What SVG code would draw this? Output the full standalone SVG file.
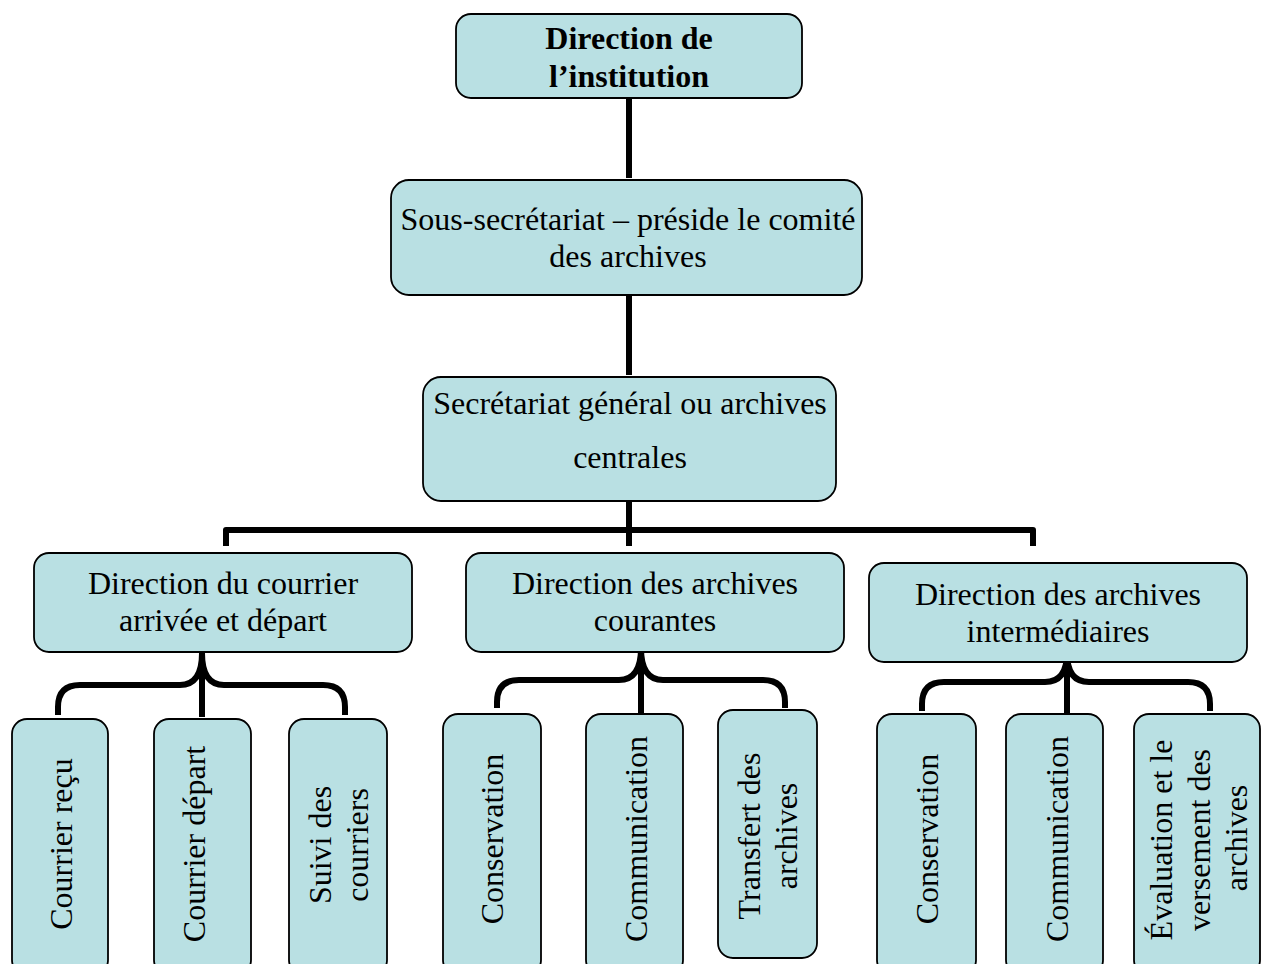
<svg xmlns="http://www.w3.org/2000/svg" width="1262" height="964" viewBox="0 0 1262 964">
<style>
.box{fill:#b9e0e3;stroke:#000;stroke-width:1.8}
.t{font-family:"Liberation Serif","Times New Roman",serif;font-size:32px;fill:#000;text-anchor:middle}
.b{font-weight:bold}
.c{fill:none;stroke:#000;stroke-width:6;stroke-linecap:butt;stroke-linejoin:round}
</style>
<rect width="1262" height="964" fill="#fff"/>
<g id="connectors">
<path class="c" d="M629 98V178"/>
<path class="c" d="M629 296V375"/>
<path class="c" d="M629 492V546"/>
<path class="c" d="M226 546V530H1033V546"/>
<path class="c" d="M202 653V717"/>
<path class="c" d="M202 653Q202 685 180 685H80Q58 685 58 707V715"/>
<path class="c" d="M202 653Q202 685 224 685H323Q345 685 345 707V715"/>
<path class="c" d="M641 648V713"/>
<path class="c" d="M641 648Q641 680 619 680H519Q497 680 497 702V708"/>
<path class="c" d="M641 648Q641 680 663 680H763Q785 680 785 702V708"/>
<path class="c" d="M1067 653V714"/>
<path class="c" d="M1067 653Q1067 682 1045 682H944Q922 682 922 704V711"/>
<path class="c" d="M1067 653Q1067 682 1089 682H1188Q1210 682 1210 704V711"/>
</g>
<g id="n1"><rect class="box" x="456" y="14" width="346" height="84" rx="15"/>
<text class="t b" x="629" y="49">Direction de</text><text class="t b" x="629" y="87">l’institution</text></g>
<g id="n2"><rect class="box" x="391" y="180" width="471" height="115" rx="18"/>
<text class="t" x="628" y="230">Sous-secrétariat – préside le comité</text><text class="t" x="628" y="267">des archives</text></g>
<g id="n3"><rect class="box" x="423" y="377" width="413" height="124" rx="18"/>
<text class="t" x="630" y="414">Secrétariat général ou archives</text><text class="t" x="630" y="468">centrales</text></g>
<g id="n4"><rect class="box" x="34" y="553" width="378" height="99" rx="15"/>
<text class="t" x="223" y="594">Direction du courrier</text><text class="t" x="223" y="631">arrivée et départ</text></g>
<g id="n5"><rect class="box" x="466" y="553" width="378" height="99" rx="15"/>
<text class="t" x="655" y="594">Direction des archives</text><text class="t" x="655" y="631">courantes</text></g>
<g id="n6"><rect class="box" x="869" y="563" width="378" height="99" rx="15"/>
<text class="t" x="1058" y="605">Direction des archives</text><text class="t" x="1058" y="642">intermédiaires</text></g>
<g id="n7"><rect class="box" x="12" y="719" width="96" height="256" rx="15"/>
<text class="t" transform="translate(72 844) rotate(-90)">Courrier reçu</text></g>
<g id="n8"><rect class="box" x="154" y="719" width="97" height="256" rx="15"/>
<text class="t" transform="translate(205 844) rotate(-90)">Courrier départ</text></g>
<g id="n9"><rect class="box" x="289" y="719" width="98" height="256" rx="15"/>
<text class="t" transform="translate(331 845) rotate(-90)">Suivi des</text><text class="t" transform="translate(368 845) rotate(-90)">courriers</text></g>
<g id="n10"><rect class="box" x="443" y="714" width="98" height="261" rx="15"/>
<text class="t" transform="translate(503 839) rotate(-90)">Conservation</text></g>
<g id="n11"><rect class="box" x="586" y="714" width="97" height="261" rx="15"/>
<text class="t" transform="translate(647 839) rotate(-90)">Communication</text></g>
<g id="n12"><rect class="box" x="718" y="710" width="99" height="248" rx="15"/>
<text class="t" transform="translate(760 836) rotate(-90)">Transfert des</text><text class="t" transform="translate(797 836) rotate(-90)">archives</text></g>
<g id="n13"><rect class="box" x="877" y="714" width="99" height="261" rx="15"/>
<text class="t" transform="translate(938 839) rotate(-90)">Conservation</text></g>
<g id="n14"><rect class="box" x="1006" y="714" width="97" height="261" rx="15"/>
<text class="t" transform="translate(1068 839) rotate(-90)">Communication</text></g>
<g id="n15"><rect class="box" x="1134" y="714" width="126" height="261" rx="15"/>
<text class="t" transform="translate(1172 840) rotate(-90)">Évaluation et le</text><text class="t" transform="translate(1210 840) rotate(-90)">versement des</text><text class="t" transform="translate(1247 838) rotate(-90)">archives</text></g>
</svg>
